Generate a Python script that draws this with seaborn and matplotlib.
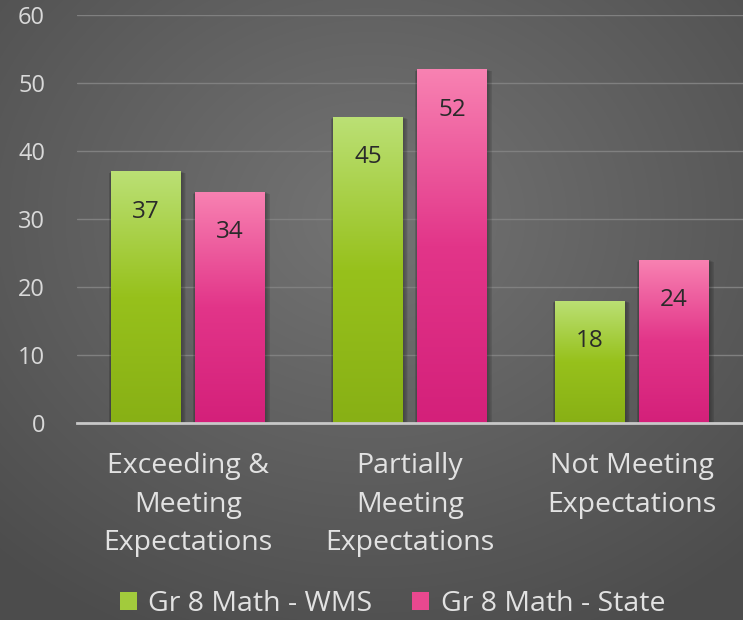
import numpy as np
import pandas as pd
import matplotlib
matplotlib.use("Agg")
import matplotlib.pyplot as plt
import seaborn as sns
from matplotlib.colors import LinearSegmentedColormap
from matplotlib.patches import Patch

categories = ["Exceeding &\nMeeting\nExpectations", "Partially\nMeeting\nExpectations", "Not Meeting\nExpectations"]
series = ["Gr 8 Math - WMS", "Gr 8 Math - State"]
wms_values = [37, 45, 18]
state_values = [34, 52, 24]
y_ticks = [0, 10, 20, 30, 40, 50, 60]

df = pd.DataFrame({
    "category": categories * 2,
    "series": [series[0]] * 3 + [series[1]] * 3,
    "value": wms_values + state_values,
})

sns.set_theme(style="white")
plt.rcParams["font.family"] = ["Open Sans", "DejaVu Sans"]

W, H = 743, 620
fig = plt.figure(figsize=(W / 100, H / 100), dpi=100)

# radial gradient background
bg = fig.add_axes([0, 0, 1, 1], zorder=-10)
yy, xx = np.mgrid[0:H, 0:W]
r = np.sqrt(((xx - W * 0.5) / (W * 0.75)) ** 2 + ((yy - H * 0.35) / (H * 0.75)) ** 2)
r = np.clip(r, 0, 1)
c0, c1 = np.array([0x74, 0x74, 0x74]) / 255, np.array([0x4c, 0x4c, 0x4c]) / 255
img = c0[None, None, :] * (1 - r[..., None]) + c1[None, None, :] * r[..., None]
bg.imshow(img, aspect="auto", extent=[0, 1, 0, 1])
bg.axis("off")

ax = fig.add_axes([77 / W, 1 - 423 / H, 1 - 77 / W, (423 - 15) / H])
ax.set_facecolor("none")

pal = {series[0]: "#a2cb3c", series[1]: "#e9488f"}
sns.barplot(data=df, x="category", y="value", hue="series", palette=pal,
            width=0.757, gap=0.167, ax=ax, legend=False, zorder=3)

grads = {
    series[0]: LinearSegmentedColormap.from_list("g", ["#88b015", "#97c11c", "#bbe075"]),
    series[1]: LinearSegmentedColormap.from_list("p", ["#d4207a", "#e23589", "#f882b2"]),
}
grad = np.linspace(0, 1, 256).reshape(-1, 1)
ax.set_ylim(0, 60)
ax.set_xlim(-0.5, 2.5)

px = 3.0 / 666  # one pixel in data units along x
for cont, s in zip(ax.containers, series):
    for p in cont.patches:
        x0, w, h = p.get_x(), p.get_width(), p.get_height()
        for k in range(1, 7):
            ax.add_patch(plt.Rectangle((x0 - k * px * 0.4, 0), w + k * px * 1.3, h - 0.05 * k,
                                       facecolor="black", alpha=0.05, edgecolor="none", zorder=2))
        im = ax.imshow(grad, cmap=grads[s], origin="lower", aspect="auto",
                       extent=[x0, x0 + w, 0, h], zorder=3.5)
        im.set_clip_path(p)
        p.set_facecolor("none")
        p.set_edgecolor("none")
        ax.annotate(f"{int(h)}", xy=(x0 + w / 2, h), xytext=(0, -29),
                    textcoords="offset points", ha="center", va="center",
                    fontsize=17.5, color="#2a2a2a", zorder=5)

ax.set_ylim(0, 60)
ax.set_xlim(-0.5, 2.5)
ax.set_yticks(y_ticks)
ax.set_yticklabels([str(t) for t in y_ticks])
ax.yaxis.grid(True, color="#808080", linewidth=1.0, zorder=0)
ax.set_axisbelow(True)
for sp in ["top", "right", "left"]:
    ax.spines[sp].set_visible(False)
ax.spines["bottom"].set_color("#c8c8c8")
ax.spines["bottom"].set_linewidth(2)
ax.spines["bottom"].set_zorder(6)
ax.tick_params(axis="y", length=0, pad=23, labelsize=17, labelcolor="#d9d9d9")
ax.tick_params(axis="x", length=0, pad=21, labelsize=20.5, labelcolor="#e2e2e2")
for lbl in ax.get_xticklabels():
    lbl.set_linespacing(1.5)
ax.set_xlabel("")
ax.set_ylabel("")

handles = [Patch(facecolor="#a2cb3c", edgecolor="none", label=series[0]),
           Patch(facecolor="#e9488f", edgecolor="none", label=series[1])]
leg = fig.legend(handles=handles, loc="center", bbox_to_anchor=(0.528, 1 - 604 / H),
                 ncol=2, frameon=False, fontsize=20.5, labelcolor="#e2e2e2",
                 handlelength=0.6, handleheight=0.6, handletextpad=0.4, columnspacing=1.4)

fig.savefig("out.png", dpi=100)
